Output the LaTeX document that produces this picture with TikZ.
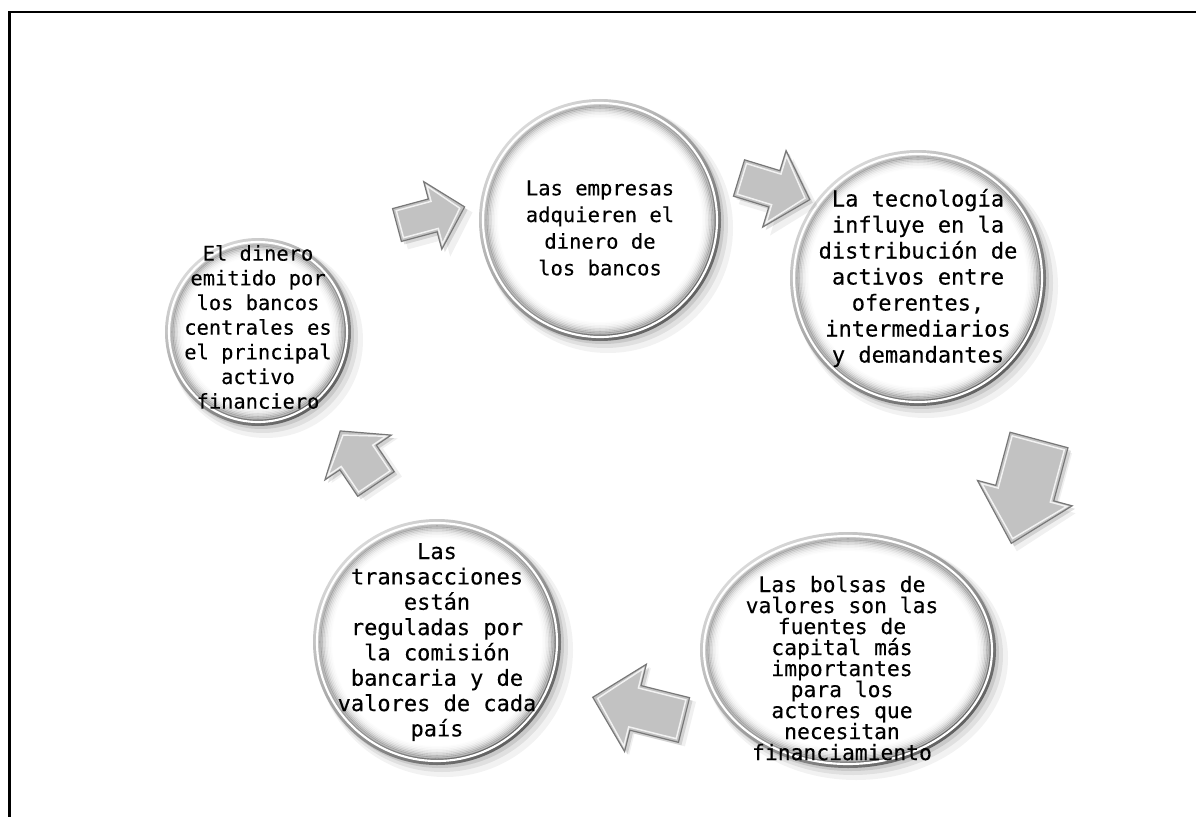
\documentclass[tikz,border=0pt]{standalone}
\usepackage{fontspec}
\newfontfamily\mono[FakeBold=0.3]{DejaVu Sans Mono}
\usetikzlibrary{calc}
\definecolor{arrfill}{RGB}{194,194,194}
\definecolor{arredge}{RGB}{120,120,120}
\newcommand\glassring[5]{%
  \fill[black,opacity=.05] (#2+8,#3+8) ellipse ({#4+4} and {#5+4});
  \fill[black,opacity=.07] (#2+5,#3+5) ellipse ({#4+2} and {#5+2});
  \fill[black,opacity=.10] (#2+3,#3+3) ellipse ({#4} and {#5});
  \shade[top color=gray!30, bottom color=black!62, shading angle=40] (#2,#3) ellipse ({#4} and {#5});
  \draw[white,line width=1.6] (#2,#3) ellipse ({#4-4} and {#5-4});
  \fill[white] (#2,#3) ellipse ({#4-6.5} and {#5-6.5});
  \foreach \k/\op in {0/.55,1/.40,2/.28,3/.19,4/.12,5/.07,6/.04,7/.02}{
    \draw[gray,opacity=\op,line width=1.6] (#2,#3) ellipse ({#4-7.3-1.5*\k} and {#5-7.3-1.5*\k});
  }
  \coordinate (#1) at (#2,#3);
}
\newcommand\arrpoly[4]{(0,-#3) -- (#1-#4,-#3) -- (#1-#4,-#2) -- (#1,0) -- (#1-#4,#2) -- (#1-#4,#3) -- (0,#3) -- cycle}
\newcommand\arrinner[4]{(3,-#3+3) -- (#1-#4+2,-#3+3) -- (#1-#4+2,-#2+5) -- (#1-5,0) -- (#1-#4+2,#2-5) -- (#1-#4+2,#3-3) -- (3,#3-3) -- cycle}
% name x y angle L h s hl
\newcommand\blockarr[8]{%
  \begin{scope}[shift={(#2+6,#3+6)}, rotate=#4]
    \fill[black,opacity=.06] \arrpoly{#5+2}{#6+2}{#7+2}{#8};
  \end{scope}
  \begin{scope}[shift={(#2+3,#3+3)}, rotate=#4]
    \fill[black,opacity=.12] \arrpoly{#5}{#6}{#7}{#8};
  \end{scope}
  \begin{scope}[shift={(#2,#3)}, rotate=#4]
    \fill[arrfill] \arrpoly{#5}{#6}{#7}{#8};
    \draw[arredge,line width=0.9] \arrpoly{#5}{#6}{#7}{#8};
    \draw[white,opacity=.8,line width=1.1] \arrinner{#5}{#6}{#7}{#8};
    \coordinate (#1) at (#5/2,0);
  \end{scope}
}
\tikzset{txt/.style={align=center, inner sep=0pt, text=black}}
\begin{document}
\begin{tikzpicture}[x=0.75pt,y=-0.75pt]
\useasboundingbox (0,0) rectangle (1196,817);
\fill[white] (0,0) rectangle (1196,817);
\draw[black,line width=1.6] (9.5,817) -- (9.5,12) -- (1196,12);

\glassring{c1}{258}{332}{93}{94}
\glassring{c2}{600}{220}{121}{121}
\glassring{c3}{918}{278}{128}{128}
\glassring{c4}{848}{650}{148}{118}
\glassring{c5}{437}{642}{124}{123}

\blockarr{a1}{397}{225}{15}{70}{35}{17}{33}
\blockarr{a2}{739}{178}{-17}{74}{40}{19}{37}
\blockarr{a3}{1039}{440}{-105}{107}{49}{30}{52}
\blockarr{a4}{684}{720}{166}{94}{45}{23}{44}
\blockarr{a5}{376}{484}{124}{64}{40}{22}{32}

\node[txt, font=\mono\fontsize{15.3}{18.5}\selectfont] (t1) at (258,327) {El dinero\\emitido por\\los bancos\\centrales es\\el principal\\activo\\financiero};
\node[txt, font=\mono\fontsize{15.4}{20}\selectfont] (t2) at (600,228) {Las empresas\\adquieren el\\dinero de\\los bancos};
\node[txt, font=\mono\fontsize{16.5}{19.5}\selectfont] (t3) at (918,278) {La tecnología\\influye en la\\distribución de\\activos entre\\oferentes,\\intermediarios\\y demandantes};
\node[txt, font=\mono\fontsize{16}{15.75}\selectfont] (t4) at (842,668) {Las bolsas de\\valores son las\\fuentes de\\capital más\\importantes\\para los\\actores que\\necesitan\\financiamiento};
\node[txt, font=\mono\fontsize{16.5}{19}\selectfont] (t5) at (437,642) {Las\\transacciones\\están\\reguladas por\\la comisión\\bancaria y de\\valores de cada\\país};
\end{tikzpicture}
\end{document}
